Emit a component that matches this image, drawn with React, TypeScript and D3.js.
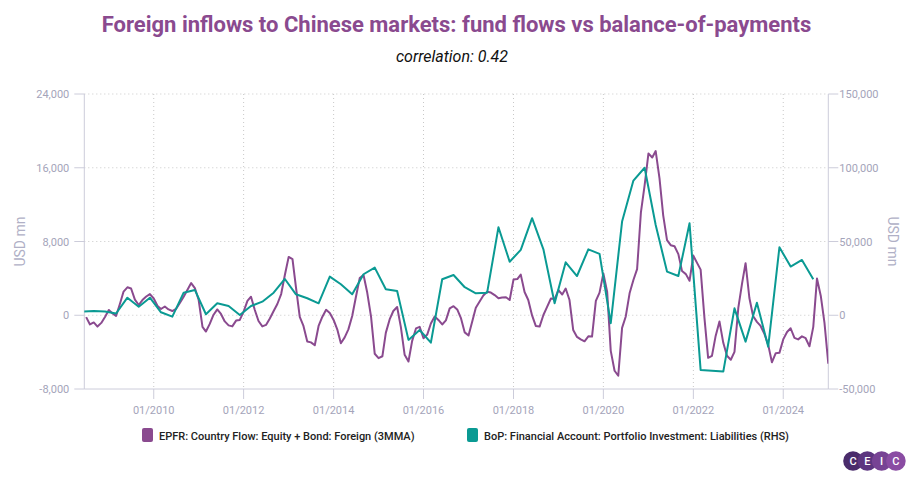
import React from "react";
import * as d3 from "d3";

const W = 913;
const H = 480;

const TITLE = "Foreign inflows to Chinese markets: fund flows vs balance-of-payments";
const SUBTITLE = "correlation: 0.42";
const AXIS_TITLE = "USD mn";
const epfrLabel = "EPFR: Country Flow: Equity + Bond: Foreign (3MMA)";
const bopLabel = "BoP: Financial Account: Portfolio Investment: Liabilities (RHS)";

// EPFR monthly (USD mn), Jul 2008 .. Jan 2025
const epfrStartYear = 2008;
const epfrStartMonth = 6; // July (0-based)
const epfrValues = [
  -200, -1000, -780, -1230, -830, -180,
  570, 200, -80, 1220, 2570, 3030, 2900, 1700, 1110, 1650, 2030, 2300,
  1820, 1000, 680, 950, 630, 460, 680, 1330, 2010, 2730, 3490, 2950,
  1650, -1260, -1770, -940, 30, 630, 140, -670, -1100, -1210, -580, -510,
  390, 1550, 2010, 570, -620, -1210, -1050, -350, 460, 1220, 2300, 4360,
  6330, 6090, 3060, -180, -1160, -2850, -2940, -3260, -1160, -180, 590, 250,
  -510, -1590, -3030, -2400, -1530, -80, 1980, 4030, 4360, 2460, -150, -4180,
  -4650, -4450, -1910, -450, 460, 900, -1260, -4290, -5020, -2780, -1430, -1260,
  -2490, -2080, -890, -130, -510, -1000, -560, 740, 980, 630, -350, -1860,
  -2200, -620, 820, 1490, 2140, 2550, 2460, 2190, 1840, 1920, 1950, 1650,
  3870, 3920, 4410, 2520, 1650, -20, -1160, -1230, 30, 900, 1820, 1760,
  2730, 2250, 2900, 1650, -1590, -2350, -2620, -2830, -2290, -2310, 1550, 2460,
  4540, 2520, -3860, -6020, -6560, -1370, -130, 2380, 3820, 5000, 11170, 14090,
  17540, 17110, 17810, 14840, 10840, 8140, 7600, 7490, 6630, 4790, 4460, 3740,
  6460, 5650, 4950, -290, -4620, -4400, -2240, -670, -2990, -4400, -4830, -3970,
  790, 3490, 5650, 1870, -80, -720, -1160, -2020, -3210, -5100, -4110, -4080,
  -2620, -1810, -1410, -2450, -2620, -2290, -2490, -3370, -1260, 3980, 2090, -830,
  -5260,
];

// BoP quarterly (USD mn, RHS), Q2 2008 .. Q3 2024 (quarter-end months)
const bopStartYear = 2008;
const bopStartMonth = 5; // June (0-based)
const bopValues = [
  2400, 2900, 2600,
  1200, 11900, 5800, 11900,
  2000, -950, 15300, 17150,
  700, 8100, 6300, 200,
  6300, 9200, 15300, 24600,
  14200, 11500, 8100, 26200,
  21000, 14200, 27800, 32300,
  17600, 16500, -16700, -10000,
  -18600, 24400, 27300, 19000,
  14900, 15300, 59700, 36300,
  44300, 65800, 44700, 8100,
  35900, 26600, 44700, 41600,
  -5400, 63500, 91300, 100000,
  61200, 29600, 26600, 62400,
  -37100, -37700, -38200, 4700,
  -17900, 8500, -21300, 46100,
  33000, 37500, 24400,
];

const leftTicks = [-8000, 0, 8000, 16000, 24000];
const rightTicks = [-50000, 0, 50000, 100000, 150000];
const xTickYears = [2010, 2012, 2014, 2016, 2018, 2020, 2022, 2024];

const PURPLE = "#8A4A8F";
const TEAL = "#0A9A93";
const AXIS_COLOR = "#CCCCDA";
const TICK_TEXT = "#A4A4BA";
const FONT = "Roboto, 'Noto Sans', sans-serif";

const epfrData = epfrValues.map((v, i) => ({
  date: new Date(epfrStartYear, epfrStartMonth + i, 1),
  value: v,
}));
const bopData = bopValues.map((v, i) => ({
  date: new Date(bopStartYear, bopStartMonth + i * 3, 1),
  value: v,
}));

const fmt = d3.formatLocale({
  decimal: ".",
  thousands: ",",
  grouping: [3],
  currency: ["$", ""],
  minus: "-",
}).format(",");

export default function App() {
  const left = 84.3;
  const right = 828.3;
  const top = 94;
  const bottom = 389;

  const x = d3
    .scaleTime()
    .domain([new Date(2008, 5, 16), new Date(2025, 0, 1)])
    .range([left, right]);
  const yL = d3.scaleLinear().domain([-8000, 24000]).range([bottom, top]);
  const yR = d3.scaleLinear().domain([-50000, 150000]).range([bottom, top]);

  const lineL = d3
    .line<{ date: Date; value: number }>()
    .x((d) => x(d.date))
    .y((d) => yL(d.value));
  const lineR = d3
    .line<{ date: Date; value: number }>()
    .x((d) => x(d.date))
    .y((d) => yR(d.value));

  const xTicks = xTickYears.map((y) => new Date(y, 0, 1));
  const xFmt = d3.timeFormat("%m/%Y");

  const logoColors = ["#4A2C6B", "#5D3680", "#774394", "#8A4CA3"];
  const logoLetters = ["C", "E", "I", "C"];

  return (
    <div style={{ position: "absolute", left: 0, top: 0 }}>
      <svg width={W} height={H} style={{ display: "block", fontFamily: FONT }}>
        <rect x={0} y={0} width={W} height={H} fill="#ffffff" />
        <defs>
          <clipPath id="plotClip">
            <rect x={left} y={top - 10} width={right - left} height={bottom - top + 20} />
          </clipPath>
        </defs>

        {/* Title */}
        <text
          x={456.5}
          y={32}
          textAnchor="middle"
          fontSize={22}
          fontWeight={700}
          fill={PURPLE}
        >
          {TITLE}
        </text>
        <text
          x={452}
          y={61.5}
          textAnchor="middle"
          fontSize={16}
          fontStyle="italic"
          fill="#111"
        >
          {SUBTITLE}
        </text>

        {/* Horizontal grid */}
        {leftTicks
          .filter((t) => t !== -8000)
          .map((t) => (
            <line
              key={"hg" + t}
              x1={left}
              x2={right}
              y1={yL(t)}
              y2={yL(t)}
              stroke="#C8C8C8"
              strokeWidth={1}
              strokeDasharray="1,3"
            />
          ))}
        {/* Vertical grid */}
        {xTicks.map((d, i) => (
          <line
            key={"vg" + i}
            x1={x(d)}
            x2={x(d)}
            y1={top}
            y2={bottom}
            stroke="#C8C8C8"
            strokeWidth={1}
            strokeDasharray="1,3"
          />
        ))}

        {/* Axes lines */}
        <line x1={left} x2={left} y1={top} y2={bottom} stroke={AXIS_COLOR} strokeWidth={1} />
        <line x1={right} x2={right} y1={top} y2={bottom} stroke={AXIS_COLOR} strokeWidth={1} />
        <line x1={left} x2={right} y1={bottom} y2={bottom} stroke={AXIS_COLOR} strokeWidth={1} />

        {/* Left ticks */}
        {leftTicks.map((t) => (
          <g key={"lt" + t}>
            <line x1={left - 10} x2={left} y1={yL(t)} y2={yL(t)} stroke={AXIS_COLOR} />
            <text
              x={left - 15}
              y={yL(t) + 4}
              textAnchor="end"
              fontSize={11}
              fill={TICK_TEXT}
            >
              {fmt(t)}
            </text>
          </g>
        ))}
        {/* Right ticks */}
        {rightTicks.map((t) => (
          <g key={"rt" + t}>
            <line x1={right} x2={right + 10} y1={yR(t)} y2={yR(t)} stroke={AXIS_COLOR} />
            <text x={right + 11} y={yR(t) + 4} textAnchor="start" fontSize={11} fill={TICK_TEXT}>
              {fmt(t)}
            </text>
          </g>
        ))}
        {/* X ticks */}
        {xTicks.map((d, i) => (
          <g key={"xt" + i}>
            <line x1={x(d)} x2={x(d)} y1={bottom} y2={bottom + 10} stroke={AXIS_COLOR} />
            <text x={x(d)} y={bottom + 25} textAnchor="middle" fontSize={11} fill={TICK_TEXT}>
              {xFmt(d)}
            </text>
          </g>
        ))}

        {/* Axis titles */}
        <text
          transform={`translate(25, ${(top + bottom) / 2}) rotate(-90)`}
          textAnchor="middle"
          fontSize={14}
          fill="#B0B0C6"
        >
          {AXIS_TITLE}
        </text>
        <text
          transform={`translate(888, ${(top + bottom) / 2}) rotate(90)`}
          textAnchor="middle"
          fontSize={14}
          fill="#B0B0C6"
        >
          {AXIS_TITLE}
        </text>

        {/* Series */}
        <g clipPath="url(#plotClip)">
          <path
            d={lineL(epfrData) || ""}
            fill="none"
            stroke={PURPLE}
            strokeWidth={2}
            strokeLinejoin="round"
          />
          <path
            d={lineR(bopData) || ""}
            fill="none"
            stroke={TEAL}
            strokeWidth={2}
            strokeLinejoin="round"
          />
        </g>

        {/* Legend */}
        <rect x={142} y={428} width={11} height={14} rx={2} fill={PURPLE} />
        <text x={159} y={439.5} fontSize={11} fontWeight={500} fill="#222">
          {epfrLabel}
        </text>
        <rect x={467} y={428} width={11} height={14} rx={2} fill={TEAL} />
        <text x={484} y={439.5} fontSize={11} fontWeight={500} fill="#222">
          {bopLabel}
        </text>

        {/* CEIC logo */}
        {logoLetters.map((l, i) => (
          <g key={"logo" + i}>
            <circle cx={853 + i * 14.3} cy={461} r={9.8} fill={logoColors[i]} />
          </g>
        ))}
        {logoLetters.map((l, i) => (
          <text
            key={"logot" + i}
            x={853 + i * 14.3}
            y={465}
            textAnchor="middle"
            fontSize={11}
            fontWeight={500}
            fill="#ffffff"
          >
            {l}
          </text>
        ))}
      </svg>
    </div>
  );
}
